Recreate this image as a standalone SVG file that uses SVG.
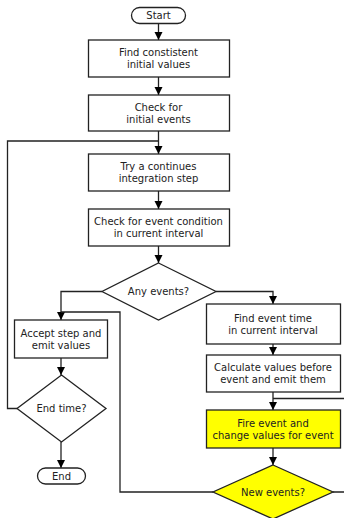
<svg xmlns="http://www.w3.org/2000/svg" width="344" height="518" viewBox="0 0 344 518">
<defs>
<marker id="arr" markerUnits="userSpaceOnUse" markerWidth="10" markerHeight="10" viewBox="0 0 10 10" refX="9" refY="5" orient="auto">
<path d="M1,1 L9,5 L1,9 Z" fill="#000"/>
</marker>
<style>
.b{fill:#fff;stroke:#222;stroke-width:1.3}
.y{fill:#ffff00;stroke:#222;stroke-width:1.3}
.c{fill:none;stroke:#222;stroke-width:1.3}
.a{marker-end:url(#arr)}
text{font-family:"DejaVu Sans",sans-serif;font-size:10px;fill:#222;text-anchor:middle}
</style>
</defs>
<rect width="344" height="518" fill="#fff"/>
<g id="connectors">
<path class="c a" d="M158.5,23.5 V40"/>
<path class="c a" d="M158.5,77 V95"/>
<path class="c a" d="M158.5,131 V154"/>
<path class="c a" d="M158.5,191 V209"/>
<path class="c a" d="M158.5,246 V263"/>
<path class="c a" d="M102,291.5 H61 V320"/>
<path class="c a" d="M216,291.5 H273 V304"/>
<path class="c a" d="M273,344 V355"/>
<path class="c a" d="M273,392 V410"/>
<path class="c" d="M333,492 H347 V398.5 H273"/>
<path class="c a" d="M273,448 V465"/>
<path class="c" d="M213,492 H120 V312 H61"/>
<path class="c a" d="M61,358 V375"/>
<path class="c" d="M17,408.5 H7.5 V141 H158.5"/>
<path class="c a" d="M61,442 V468"/>
</g>
<g id="start"><rect class="b" x="131.5" y="7.5" width="54" height="16" rx="8"/><text x="158.5" y="19">Start</text></g>
<g id="find-initial"><rect class="b" x="88.5" y="40" width="141" height="37"/><text x="158.5" y="56">Find constistent</text><text x="158.5" y="68">initial values</text></g>
<g id="check-initial"><rect class="b" x="88.5" y="95" width="141" height="36"/><text x="158.5" y="110.5">Check for</text><text x="158.5" y="122.5">initial events</text></g>
<g id="try-step"><rect class="b" x="88.5" y="154" width="141" height="37"/><text x="158.5" y="170">Try a continues</text><text x="158.5" y="182">integration step</text></g>
<g id="check-condition"><rect class="b" x="88.5" y="209" width="141" height="37"/><text x="158.5" y="225">Check for event condition</text><text x="158.5" y="237">in current interval</text></g>
<g id="any-events"><polygon class="b" points="158.5,263 216,291.5 158.5,320 102,291.5"/><text x="158.5" y="295">Any events?</text></g>
<g id="accept-step"><rect class="b" x="14.5" y="320" width="93" height="38"/><text x="61" y="336.5">Accept step and</text><text x="61" y="348.5">emit values</text></g>
<g id="end-time"><polygon class="b" points="61.5,375 106,408.5 61.5,442 17,408.5"/><text x="61.5" y="412">End time?</text></g>
<g id="end"><rect class="b" x="37.5" y="468" width="48" height="16" rx="8"/><text x="61.5" y="480">End</text></g>
<g id="find-event-time"><rect class="b" x="206.5" y="304" width="134" height="40"/><text x="273" y="321.5">Find event time</text><text x="273" y="333.5">in current interval</text></g>
<g id="calculate-values"><rect class="b" x="206.5" y="355" width="134" height="37"/><text x="273" y="371">Calculate values before</text><text x="273" y="383">event and emit them</text></g>
<g id="fire-event"><rect class="y" x="206.5" y="410" width="134" height="38"/><text x="273" y="426.5">Fire event and</text><text x="273" y="438.5">change values for event</text></g>
<g id="new-events"><polygon class="y" points="273,465 333,492 273,519 213,492"/><text x="273" y="495.5">New events?</text></g>
</svg>
